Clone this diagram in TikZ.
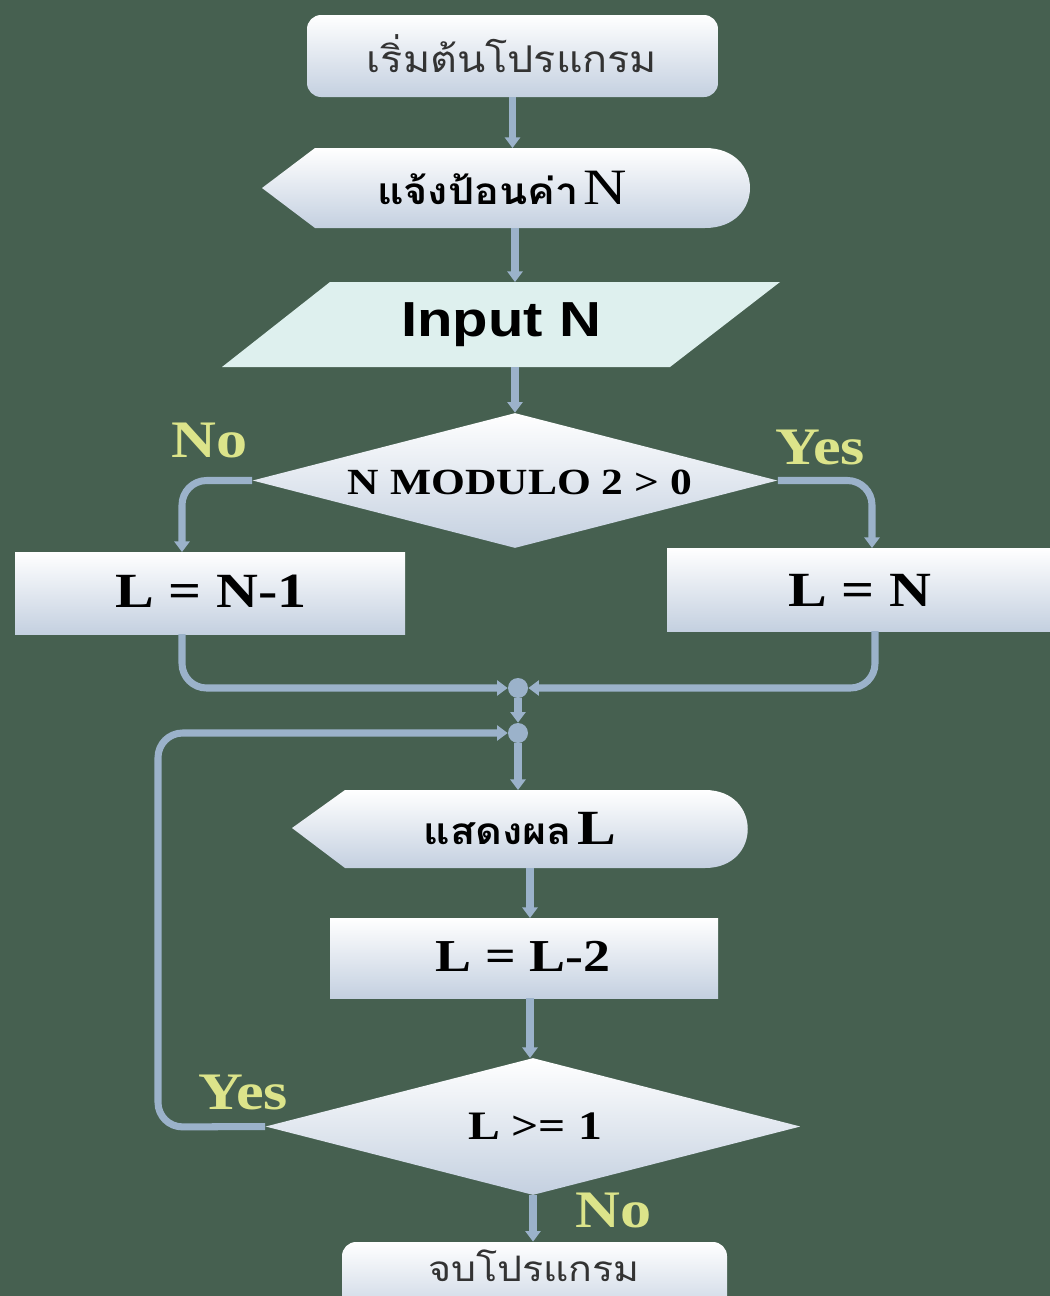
\documentclass[tikz,border=0pt]{standalone}
\usepackage{fontspec}
\setmainfont{Liberation Serif}[FakeStretch=1.18]
\newfontfamily\thai{Loma}[Script=Thai,FakeStretch=1.12]
\newfontfamily\arial{Liberation Sans}[FakeStretch=1.18]
\usetikzlibrary{arrows.meta,shapes.geometric}
\definecolor{bg}{RGB}{70,96,80}
\definecolor{conn}{RGB}{155,178,202}
\definecolor{boxbot}{RGB}{196,208,224}
\definecolor{paral}{RGB}{222,240,238}
\definecolor{lab}{RGB}{220,228,138}
\begin{document}
\begin{tikzpicture}[x=0.02cm,y=-0.02cm,
  conn/.style={draw=conn, line width=4pt, rounded corners=14pt, -{Triangle[width=8.5pt,length=6pt]}},
  sh/.style={top color=white, bottom color=boxbot, draw=none},
  boxn/.style={rectangle, sh, inner sep=0pt},
  txt/.style={inner sep=0pt, text=black},
  lbl/.style={inner sep=0pt, text=lab, font=\bfseries\fontsize{30}{32}\selectfont}
]
\fill[bg] (0,0) rectangle (1050,1296);
\useasboundingbox (0,0) rectangle (1050,1296);

% start
\node[boxn, rounded corners=8pt, minimum width=411*0.02cm, minimum height=82*0.02cm] (start) at (512.5,56) {};
\node[txt, font=\thai\fontsize{21}{24}\selectfont, text=black!80] (startt) at (512,54) {เริ่มต้นโปรแกรม};

% display 1
\path[sh] (262,188) -- (315,148) -- (705,148) .. controls (765,148) and (765,228) .. (705,228) -- (315,228) -- cycle;
\node[txt] (disp1) at (502,188) {{\thai\bfseries\fontsize{21}{24}\selectfont แจ้งป้อนค่า} {\fontsize{29}{30}\selectfont N}};
\coordinate (d1t) at (512.5,148);
\coordinate (d1b) at (515,228);

% input parallelogram
\path[fill=paral] (330,282) -- (780,282) -- (670,367) -- (222,367) -- cycle;
\node[txt, font=\arial\bfseries\fontsize{28}{30}\selectfont] (inp) at (501,325) {Input N};
\coordinate (pt) at (515,282);
\coordinate (pb) at (515,367);

% decision 1
\node[diamond, sh, inner sep=0pt, minimum width=525*0.02cm, minimum height=135*0.02cm] (dec1) at (515,480.5) {};
\node[txt, font=\bfseries\fontsize{21}{24}\selectfont] (dec1t) at (520,482) {N MODULO 2 > 0};
\node[lbl] (no1) at (210,440) {No};
\node[lbl] (yes1) at (820,447) {Yes};

% branch boxes
\node[boxn, minimum width=390*0.02cm, minimum height=82*0.02cm] (lb) at (210,593) {};
\node[txt, font=\bfseries\fontsize{28}{30}\selectfont] (lbt) at (211,591) {L = N-1};
\node[boxn, minimum width=400*0.02cm, minimum height=83*0.02cm] (rb) at (867,589.5) {};
\node[txt, font=\bfseries\fontsize{28}{30}\selectfont] (rbt) at (860,590) {L = N};
\coordinate (lbin) at (182,552);
\coordinate (rbin) at (872,548);
\coordinate (lbout) at (182,634);
\coordinate (rbout) at (875,631);

% junctions
\node[circle, fill=conn, minimum size=20*0.02cm, inner sep=0pt] (j1) at (518,688) {};
\node[circle, fill=conn, minimum size=20*0.02cm, inner sep=0pt] (j2) at (518,733) {};

% display 2
\path[sh] (292,828) -- (345,790) -- (705,790) .. controls (762,790) and (762,868) .. (705,868) -- (345,868) -- cycle;
\node[txt] (disp2) at (520,828) {{\thai\bfseries\fontsize{21}{24}\selectfont แสดงผล} {\bfseries\fontsize{28}{30}\selectfont L}};
\coordinate (d2t) at (518,790);
\coordinate (d2b) at (530,868);

% L = L-2
\node[boxn, minimum width=388*0.02cm, minimum height=80*0.02cm] (calc) at (524,958) {};
\node[txt, font=\bfseries\fontsize{26}{28}\selectfont] (calct) at (523,956) {L = L-2};
\coordinate (ct) at (530,918);
\coordinate (cb) at (530,998);

% decision 2
\node[diamond, sh, inner sep=0pt, minimum width=535*0.02cm, minimum height=137*0.02cm] (dec2) at (533,1126.5) {};
\node[txt, font=\bfseries\fontsize{23}{26}\selectfont] (dec2t) at (535,1126) {L >= 1};
\coordinate (dec2top) at (530,1058);
\node[lbl] (yes2) at (243,1092) {Yes};
\node[lbl] (no2) at (614,1210) {No};

% end
\node[boxn, rounded corners=8pt, minimum width=385*0.02cm, minimum height=80*0.02cm] (endb) at (534.5,1282) {};
\node[txt, font=\thai\fontsize{20}{24}\selectfont, text=black!80] (endt) at (534,1266) {จบโปรแกรม};

% connectors
\draw[conn] (start.south) -- (d1t);
\draw[conn] (d1b) -- (pt);
\draw[conn] (pb) -- (dec1.north);
\draw[conn] (dec1.west) -| (lbin);
\draw[conn] (dec1.east) -| (rbin);
\draw[conn] (lbout) |- (j1.west);
\draw[conn] (rbout) |- (j1.east);
\draw[conn] (j1.south) -- (j2.north);
\draw[conn] (dec2.west) -- (158,1127) -- (158,733) -- (j2.west);
\draw[conn] (j2.south) -- (d2t);
\draw[conn] (d2b) -- (ct);
\draw[conn] (cb) -- (dec2top);
\draw[conn] (dec2.south) -- (dec2.south |- endb.north);
\end{tikzpicture}
\end{document}
